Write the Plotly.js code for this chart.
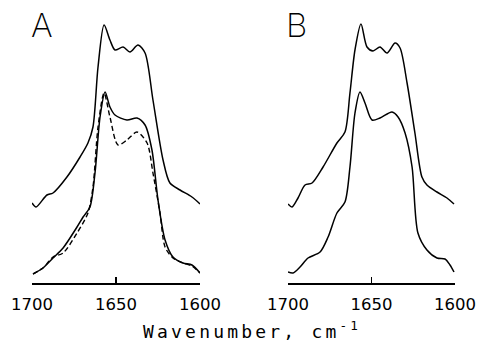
<!DOCTYPE html>
<html>
<head>
<meta charset="utf-8">
<script src="https://cdn.plot.ly/plotly-3.0.1.min.js"></script>
<style>html,body{margin:0;padding:0;background:#fff}#chart{width:480px;height:344px}</style>
</head>
<body>
<div id="chart"></div>
<script>
// Panel A, upper spectrum
const wnAUpper  = [1700.0,1697.6,1691.1,1687.5,1679.2,1671.4,1666.7,1663.7,1660.7,1657.1,1653.6,1650.6,1645.8,1641.7,1636.9,1632.7,1628.0,1622.0,1617.9,1611.9,1604.8,1600.0];
const absAUpper = [0.80,0.76,0.88,0.90,1.06,1.26,1.40,1.56,2.16,2.58,2.43,2.33,2.36,2.31,2.38,2.30,1.83,1.23,1.00,0.93,0.86,0.79];
// Panel A, lower spectrum (solid)
const wnALower  = [1699.4,1693.5,1687.5,1681.5,1673.2,1669.6,1665.5,1662.5,1659.5,1656.5,1653.6,1650.6,1643.5,1637.5,1632.7,1628.6,1625.0,1620.8,1616.1,1610.1,1604.8,1600.0];
const absALower = [0.09,0.15,0.25,0.35,0.56,0.66,0.76,1.10,1.66,1.91,1.76,1.68,1.63,1.65,1.58,1.33,0.83,0.43,0.26,0.20,0.18,0.10];
// Panel A, lower spectrum (dashed)
const wnADash   = [1699.4,1693.5,1687.5,1681.5,1673.2,1666.7,1663.7,1660.7,1657.1,1653.6,1648.8,1643.5,1637.5,1631.5,1628.0,1623.8,1620.8,1616.1,1610.1,1604.8,1600.0];
const absADash  = [0.09,0.15,0.26,0.30,0.50,0.70,0.96,1.56,1.90,1.66,1.38,1.43,1.51,1.40,1.10,0.70,0.36,0.25,0.20,0.17,0.10];
// Panel B, upper spectrum
const wnBUpper  = [1700.0,1697.6,1694.0,1689.8,1685.6,1679.0,1670.7,1665.9,1662.9,1659.9,1656.3,1652.7,1649.1,1644.9,1640.7,1635.9,1632.9,1628.7,1624.0,1619.8,1616.8,1610.8,1604.8,1600.6];
const absBUpper = [0.79,0.76,0.85,0.98,1.00,1.16,1.40,1.51,1.90,2.33,2.59,2.36,2.32,2.36,2.30,2.40,2.35,2.00,1.50,1.06,0.98,0.91,0.85,0.79];
// Panel B, lower spectrum
const wnBLower  = [1700.0,1697.0,1692.8,1688.0,1680.8,1676.0,1670.7,1665.9,1662.9,1659.9,1656.9,1653.9,1649.7,1644.9,1637.7,1634.1,1629.9,1625.7,1622.2,1616.8,1610.8,1606.0,1603.0,1600.6];
const absBLower = [0.11,0.10,0.16,0.25,0.31,0.46,0.70,0.81,1.16,1.70,1.91,1.80,1.63,1.65,1.71,1.66,1.50,1.16,0.50,0.33,0.25,0.24,0.18,0.11];
// Axis ticks
const tickVals = [1700,1650,1600];
const tickText = ['1700','1650','1600'];
const panelLabels = ['A','B'];
const xTitle = 'Wavenumber, cm<sup>-1</sup>';

const line = {color:'#000', width:1.5, shape:'spline', smoothing:0.8};
const traces = [
  {x:wnAUpper, y:absAUpper, xaxis:'x', yaxis:'y', mode:'lines', line:line},
  {x:wnALower, y:absALower, xaxis:'x', yaxis:'y', mode:'lines', line:line},
  {x:wnADash,  y:absADash,  xaxis:'x', yaxis:'y', mode:'lines', line:Object.assign({}, line, {dash:'5px,3px', width:1.4})},
  {x:wnBUpper, y:absBUpper, xaxis:'x2', yaxis:'y2', mode:'lines', line:line},
  {x:wnBLower, y:absBLower, xaxis:'x2', yaxis:'y2', mode:'lines', line:line}
];

const xax = {
  range:[1700,1600], tickvals:tickVals, ticktext:tickText,
  ticks:'inside', ticklen:6, tickwidth:1.5, tickcolor:'#000',
  showline:true, linewidth:1.5, linecolor:'#000',
  showgrid:false, zeroline:false, ticklabelstandoff:6,
  tickfont:{family:'DejaVu Sans', size:16.5, color:'#000'}
};
const yax = {range:[0,2.73], visible:false, fixedrange:true};

const labelFont = {family:'Inter, DejaVu Sans', size:33, color:'#000', weight:200};

const layout = {
  width:480, height:344,
  margin:{l:0, r:0, t:10, b:61},
  paper_bgcolor:'#fff', plot_bgcolor:'#fff',
  showlegend:false,
  xaxis:Object.assign({domain:[32/480, 200/480], anchor:'y'}, xax),
  xaxis2:Object.assign({domain:[288/480, 455/480], anchor:'y2'}, xax),
  yaxis:Object.assign({anchor:'x'}, yax),
  yaxis2:Object.assign({anchor:'x2'}, yax),
  annotations:[
    {text:panelLabels[0], xref:'paper', yref:'paper', x:41.5/480, y:(283-25)/273, xanchor:'center', yanchor:'middle', showarrow:false, font:labelFont},
    {text:panelLabels[1], xref:'paper', yref:'paper', x:296.5/480, y:(283-25)/273, xanchor:'center', yanchor:'middle', showarrow:false, font:labelFont},
    {text:'<span style="letter-spacing:3.2px">'+xTitle+'</span>', xref:'paper', yref:'paper', x:252/480, y:(283-330)/273, xanchor:'center', yanchor:'middle', showarrow:false, font:{family:'DejaVu Sans Mono', size:18, color:'#000'}}
  ]
};

Plotly.newPlot('chart', traces, layout, {displayModeBar:false, staticPlot:true});
</script>
</body>
</html>
